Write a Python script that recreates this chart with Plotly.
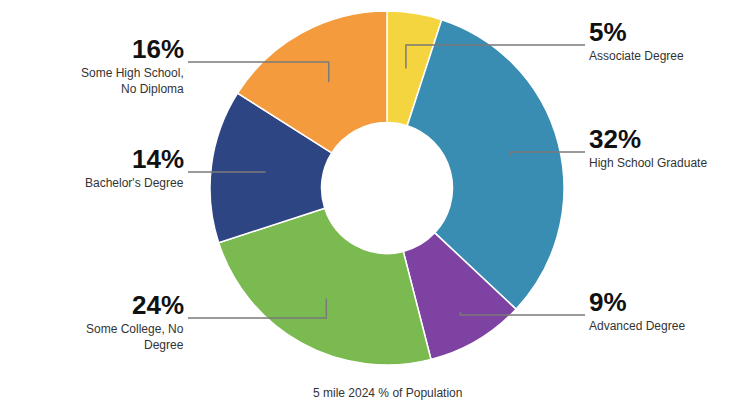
import math
import plotly.graph_objects as go

# ---- data ----
categories = ["Associate Degree", "High School Graduate", "Advanced Degree",
              "Some College, No Degree", "Bachelor's Degree", "Some High School, No Diploma"]
values = [5, 32, 9, 24, 14, 16]
label_texts = ["Associate Degree", "High School Graduate", "Advanced Degree",
               "Some College, No<br>Degree", "Bachelor's Degree", "Some High School,<br>No Diploma"]
colors = ["#F5D53F", "#3A8DB2", "#7E42A3", "#7BB951", "#2D4582", "#F49C3D"]

# ---- layout constants (page pixels; page body has an 8px margin) ----
OFF = 8
W, H = 749 - OFF, 412 - OFF
CX, CY, R = 387, 188, 177
HOLE = 0.37
sides = ["right", "right", "right", "left", "left", "left"]
line_y = [45, 152, 315, 318, 172, 62]
start_r = [121, 127, 144, 126, 123, 121]
RIGHT_X, LEFT_X = 585, 188

def px(x):
    return (x - OFF) / W

def py(y):
    return 1 - (y - OFF) / H

fig = go.Figure(go.Pie(
    labels=categories, values=values, sort=False, direction="clockwise", rotation=0,
    hole=HOLE, marker=dict(colors=colors, line=dict(color="white", width=1.5)),
    textinfo="none", hoverinfo="label+percent", showlegend=False,
    domain=dict(x=[px(CX - R), px(CX + R)], y=[py(CY + R), py(CY - R)]),
))

total = sum(values)
cum = 0
shapes, annotations = [], []
for i, v in enumerate(values):
    mid = (cum + v / 2) / total * 360
    cum += v
    a = math.radians(mid)
    sx = CX + start_r[i] * math.sin(a)
    sy = CY - start_r[i] * math.cos(a)
    ex = RIGHT_X if sides[i] == "right" else LEFT_X
    ly = line_y[i]
    path = f"M {px(sx)} {py(sy)} L {px(sx)} {py(ly)} L {px(ex)} {py(ly)}"
    shapes.append(dict(type="path", xref="paper", yref="paper", path=path,
                       line=dict(color="#7a7a7a", width=1.5)))
    xa = "left" if sides[i] == "right" else "right"
    tx = ex + 3 if sides[i] == "right" else ex - 3
    annotations.append(dict(x=px(tx), y=py(ly + 3), xref="paper", yref="paper",
                            text=f"<b>{v}%</b>", showarrow=False, xanchor=xa, yanchor="bottom",
                            font=dict(size=26, color="#111111", family="Liberation Sans, Arial"),
                            borderpad=0))
    annotations.append(dict(x=px(tx), y=py(ly + 3), xref="paper", yref="paper",
                            text=label_texts[i], showarrow=False, xanchor=xa, yanchor="top",
                            align=xa, font=dict(size=12, color="#333333", family="Liberation Sans, Arial"),
                            borderpad=0))

annotations.append(dict(x=px(CX), y=py(393), xref="paper", yref="paper",
                        text="5 mile 2024 % of Population", showarrow=False,
                        xanchor="center", yanchor="middle",
                        font=dict(size=12, color="#333333", family="Liberation Sans, Arial")))

fig.update_layout(width=W, height=H, margin=dict(l=0, r=0, t=0, b=0),
                  paper_bgcolor="white", plot_bgcolor="white",
                  shapes=shapes, annotations=annotations)

fig.write_html("out.html")
